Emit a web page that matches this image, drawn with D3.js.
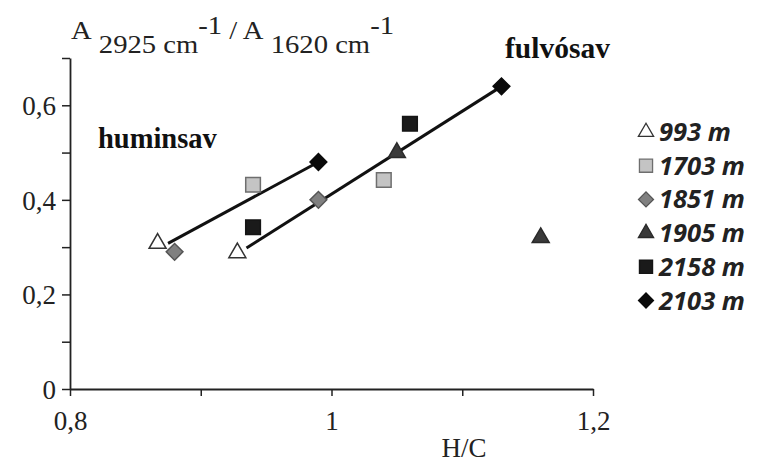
<!DOCTYPE html>
<html>
<head>
<meta charset="utf-8">
<script src="https://cdn.jsdelivr.net/npm/d3@7"></script>
<style>
  html, body { margin: 0; padding: 0; background: #fff; }
  svg { display: block; }
</style>
</head>
<body>
<svg id="chart" width="757" height="463"></svg>
<script>
// Samples (depth labels) and their H/C vs absorbance-ratio points
const samples = ["993 m", "1703 m", "1851 m", "1905 m", "2158 m", "2103 m"];
const hcValues = [
  [0.867, 0.928],
  [0.94, 1.04],
  [0.88, 0.99],
  [1.05, 1.16],
  [0.94, 1.06],
  [0.99, 1.13]
];
const ratioValues = [
  [0.308, 0.288],
  [0.432, 0.442],
  [0.29, 0.40],
  [0.50, 0.32],
  [0.342, 0.561],
  [0.48, 0.64]
];
// Trend lines: humic acid and fulvic acid
const trendNames = ["huminsav", "fulvósav"];
const trendX = [[0.875, 0.99], [0.935, 1.13]];
const trendY = [[0.308, 0.48], [0.298, 0.64]];
const xTicks = [0.8, 0.9, 1.0, 1.1, 1.2];
const xTickLabels = ["0,8", "", "1", "", "1,2"];
const yTicks = [0, 0.1, 0.2, 0.3, 0.4, 0.5, 0.6, 0.7];
const yTickLabels = ["0", "", "0,2", "", "0,4", "", "0,6", ""];

const markerStyles = [
  { shape: "triangle", fill: "#ffffff", stroke: "#333" },
  { shape: "square", fill: "#c4c4c4", stroke: "#6e6e6e" },
  { shape: "diamond", fill: "#808080", stroke: "#555" },
  { shape: "triangle", fill: "#3a3a3a", stroke: "#2a2a2a" },
  { shape: "square", fill: "#1a1a1a", stroke: "#151515" },
  { shape: "diamond", fill: "#0a0a0a", stroke: "#0a0a0a" }
];

const svg = d3.select("#chart");
const x = d3.scaleLinear().domain([0.8, 1.2]).range([70, 593]);
const y = d3.scaleLinear().domain([0, 0.7]).range([389, 58]);

const serif = "'Liberation Serif', 'Times New Roman', serif";

// Axes
const xAxis = d3.axisBottom(x).tickValues(xTicks)
  .tickFormat((d, i) => xTickLabels[i]).tickSize(7).tickSizeOuter(0);
const gx = svg.append("g").attr("transform", `translate(0,${y(0)})`).call(xAxis);
gx.select(".domain").attr("stroke", "#222").attr("stroke-width", 1.8);
gx.selectAll(".tick line").attr("stroke", "#222").attr("stroke-width", 1.5);
gx.selectAll(".tick text").attr("font-family", serif).attr("font-size", 27)
  .attr("fill", "#222").attr("y", 41).attr("dy", 0);

const yAxis = d3.axisLeft(y).tickValues(yTicks)
  .tickFormat((d, i) => yTickLabels[i]).tickSize(8).tickSizeOuter(0);
const gy = svg.append("g").attr("transform", `translate(${x(0.8)},0)`).call(yAxis);
gy.select(".domain").attr("stroke", "#222").attr("stroke-width", 1.8);
gy.selectAll(".tick line").attr("stroke", "#222").attr("stroke-width", 1.5);
gy.selectAll(".tick text").attr("font-family", serif).attr("font-size", 27)
  .attr("fill", "#222").attr("x", -14).attr("dy", "0.34em");

// Axis titles
svg.append("text").attr("x", 464).attr("y", 457).attr("text-anchor", "middle")
  .attr("font-family", serif).attr("font-size", 27).attr("fill", "#222").text("H/C");

const yTitle = svg.append("text").attr("x", 0).attr("y", 39)
  .attr("font-family", serif).attr("font-size", 25).attr("fill", "#222");
yTitle.append("tspan").text("A");
yTitle.append("tspan").attr("dy", 14).text(" 2925 cm");
yTitle.append("tspan").attr("dy", -19).text("-1");
yTitle.append("tspan").attr("dy", 5).text(" / A");
yTitle.append("tspan").attr("dy", 14).text(" 1620 cm");
yTitle.append("tspan").attr("dy", -19).text("-1");
// widen the title horizontally to span from the axis to x≈392
const titleLen = yTitle.node().getComputedTextLength();
yTitle.attr("transform", `translate(71,0) scale(${320 / titleLen},1)`);

// Trend lines
const trends = trendNames.map((n, i) => ({ name: n, xs: trendX[i], ys: trendY[i] }));
svg.append("g").selectAll("line").data(trends).join("line")
  .attr("x1", d => x(d.xs[0])).attr("y1", d => y(d.ys[0]))
  .attr("x2", d => x(d.xs[1])).attr("y2", d => y(d.ys[1]))
  .attr("stroke", "#111").attr("stroke-width", 3);

svg.append("text").attr("x", 98).attr("y", 148)
  .attr("font-family", serif).attr("font-weight", "bold").attr("font-size", 28.5)
  .attr("fill", "#111").text(trendNames[0]);
svg.append("text").attr("x", 505).attr("y", 58)
  .attr("font-family", serif).attr("font-weight", "bold").attr("font-size", 29.5)
  .attr("fill", "#111").text(trendNames[1]);

// Marker shapes
const symbolFor = { triangle: d3.symbolTriangle, square: d3.symbolSquare, diamond: d3.symbolSquare };
function markerPath(style, size) {
  return d3.symbol().type(symbolFor[style.shape]).size(size)();
}
function markerTransform(style, cx, cy) {
  if (style.shape === "diamond") return `translate(${cx},${cy}) rotate(45)`;
  return `translate(${cx},${cy})`;
}
const markerSize = { triangle: 125, square: 215, diamond: 140 };

const points = [];
samples.forEach((s, i) => {
  hcValues[i].forEach((hc, j) => points.push({ s: i, hc, r: ratioValues[i][j] }));
});
svg.append("g").selectAll("path").data(points).join("path")
  .attr("d", d => markerPath(markerStyles[d.s], markerSize[markerStyles[d.s].shape]))
  .attr("transform", d => markerTransform(markerStyles[d.s], x(d.hc), y(d.r)))
  .attr("fill", d => markerStyles[d.s].fill)
  .attr("stroke", d => markerStyles[d.s].stroke)
  .attr("stroke-width", 1.5);

// Legend
const legend = svg.append("g");
const legendItems = legend.selectAll("g").data(samples).join("g")
  .attr("transform", (d, i) => `translate(646,${132 + i * 33.7})`);
legendItems.append("path")
  .attr("d", (d, i) => markerPath(markerStyles[i], markerSize[markerStyles[i].shape] * 0.8))
  .attr("transform", (d, i) => markerTransform(markerStyles[i], 0, 0))
  .attr("fill", (d, i) => markerStyles[i].fill)
  .attr("stroke", (d, i) => markerStyles[i].stroke)
  .attr("stroke-width", 1.3);
legendItems.append("text").attr("x", 13).attr("y", 9)
  .attr("font-family", "'Open Sans', sans-serif").attr("font-weight", "bold")
  .attr("font-style", "italic").attr("font-size", 25.5).attr("fill", "#222")
  .text(d => d);
</script>
</body>
</html>
